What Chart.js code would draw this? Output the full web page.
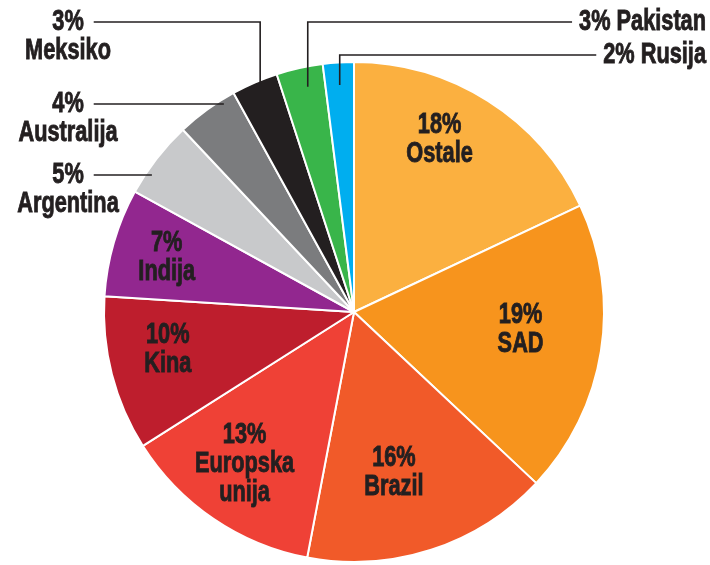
<!DOCTYPE html>
<html>
<head>
<meta charset="utf-8">
<script src="https://cdn.jsdelivr.net/npm/chart.js@4.4.0/dist/chart.umd.min.js"></script>
<style>
    body { margin: 0; background: #fff; }
    #chart { display: block; }
</style>
</head>
<body>
<canvas id="chart" width="710" height="565"></canvas>
<script>
// data (share in %)
const countries = ['Ostale', 'SAD', 'Brazil', 'Europska unija', 'Kina', 'Indija',
    'Argentina', 'Australija', 'Meksiko', 'Pakistan', 'Rusija'];
const shares = [18, 19, 16, 13, 10, 7, 5, 4, 3, 3, 2];
const sliceColors = ['#FBB040', '#F7941D', '#F15A29', '#EF4136', '#BE1E2D', '#92278F',
    '#C8C9CB', '#7B7C7E', '#231F20', '#39B54A', '#00AEEF'];

// how each label is laid out (text lines, placement)
const labelLayout = {
    'Ostale': { type: 'inside', lines: ['18%', 'Ostale'], r: 0.77, da: -6 },
    'SAD': { type: 'inside', lines: ['19%', 'SAD'], r: 0.67, da: -3 },
    'Brazil': { type: 'inside', lines: ['16%', 'Brazil'], r: 0.66, da: 4 },
    'Europska unija': { type: 'inside', lines: ['13%', 'Europska', 'unija'], r: 0.75, da: 1.5 },
    'Kina': { type: 'inside', lines: ['10%', 'Kina'], r: 0.76, da: 3 },
    'Indija': { type: 'inside', lines: ['7%', 'Indija'], r: 0.78, da: 0 },
    'Argentina': { type: 'flat', lines: ['5%', 'Argentina'], lineY: 175, textX: 68 },
    'Australija': { type: 'flat', lines: ['4%', 'Australija'], lineY: 104, textX: 68 },
    'Meksiko': { type: 'elbowLeft', lines: ['3%', 'Meksiko'], lineY: 22, textX: 68, depth: 0.985, da: 1 },
    'Pakistan': { type: 'elbowRight', lines: ['3% Pakistan'], lineY: 22, textX: 706, depth: 0.92, da: 1 },
    'Rusija': { type: 'elbowRight', lines: ['2% Rusija'], lineY: 55, textX: 706, depth: 0.91, da: 0 }
};

// condensed look: normal bold face squeezed sideways
const FONT = 'bold 29px "Liberation Sans", Arial, sans-serif';
const SQUEEZE = 0.75;
const INK = '#231F20';
const LINE_H = 29;

function textWidth(ctx, t) {
    return ctx.measureText(t).width * SQUEEZE;
}

function drawLines(ctx, lines, x, y, align) {
    ctx.textAlign = align;
    lines.forEach((t, k) => {
        ctx.save();
        ctx.translate(x, y + k * LINE_H);
        ctx.scale(SQUEEZE, 1);
        ctx.lineWidth = 0.9;
        ctx.strokeText(t, 0, 0);
        ctx.fillText(t, 0, 0);
        ctx.restore();
    });
}

const sliceLabels = {
    id: 'sliceLabels',
    afterDatasetsDraw(chart) {
        const ctx = chart.ctx;
        const arcs = chart.getDatasetMeta(0).data;
        ctx.save();
        ctx.font = FONT;
        ctx.fillStyle = INK;
        ctx.strokeStyle = INK;
        ctx.lineWidth = 1.6;
        ctx.textBaseline = 'middle';
        arcs.forEach((arc, i) => {
            const p = arc.getProps(['x', 'y', 'startAngle', 'endAngle', 'outerRadius'], true);
            const cfg = labelLayout[countries[i]];
            const mid = (p.startAngle + p.endAngle) / 2 + (cfg.da || 0) * Math.PI / 180;
            const R = p.outerRadius;
            ctx.lineWidth = 1.6;
            if (cfg.type === 'inside') {
                const lx = p.x + Math.cos(mid) * R * cfg.r;
                const ly = p.y + Math.sin(mid) * R * cfg.r;
                const top = ly - (cfg.lines.length - 1) * LINE_H / 2;
                drawLines(ctx, cfg.lines, lx, top, 'center');
            } else if (cfg.type === 'flat') {
                const dy = cfg.lineY - p.y;
                const rr = R * 0.99;
                const endX = p.x - Math.sqrt(Math.max(rr * rr - dy * dy, 0)) + 4;
                const w = textWidth(ctx, cfg.lines[0]);
                ctx.beginPath();
                ctx.moveTo(cfg.textX + w / 2 + 10, cfg.lineY);
                ctx.lineTo(endX, cfg.lineY);
                ctx.stroke();
                drawLines(ctx, cfg.lines, cfg.textX, cfg.lineY, 'center');
            } else {
                const vx = p.x + Math.cos(mid) * R * cfg.depth;
                const vy = p.y + Math.sin(mid) * R * cfg.depth;
                const w = textWidth(ctx, cfg.lines[0]);
                let startX;
                if (cfg.type === 'elbowLeft') {
                    startX = cfg.textX + w / 2 + 10;
                } else {
                    startX = cfg.textX - w - 7;
                }
                ctx.beginPath();
                ctx.moveTo(startX, cfg.lineY);
                ctx.lineTo(vx, cfg.lineY);
                ctx.lineTo(vx, vy);
                ctx.stroke();
                drawLines(ctx, cfg.lines, cfg.textX, cfg.lineY,
                    cfg.type === 'elbowLeft' ? 'center' : 'right');
            }
        });
        ctx.restore();
    }
};

const ctx = document.getElementById('chart');
const chart = new Chart(ctx, {
    type: 'pie',
    data: {
        labels: countries,
        datasets: [{
            data: shares,
            backgroundColor: sliceColors,
            borderColor: '#ffffff',
            borderWidth: 2
        }]
    },
    options: {
        responsive: false,
        animation: false,
        layout: {
            padding: { left: 103, right: 105, top: 61, bottom: 2 }
        },
        plugins: {
            legend: { display: false },
            tooltip: { enabled: false }
        }
    },
    plugins: [sliceLabels]
});
</script>
</body>
</html>
